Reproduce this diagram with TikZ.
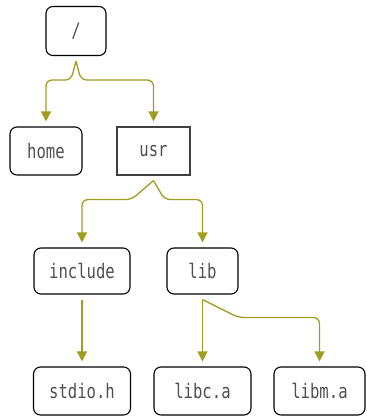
\documentclass[tikz,border=0pt]{standalone}
\usepackage{fontspec}
\newfontfamily\dmono{DejaVu Sans Mono}[FakeStretch=0.78]
\usetikzlibrary{arrows.meta}
\definecolor{edgecol}{RGB}{158,158,32}
\definecolor{txtcol}{RGB}{80,80,80}
\tikzset{
  x=1pt, y=-1pt,
  box/.style={draw=black, line width=1.1pt, rounded corners=7pt, font=\dmono\fontsize{20}{20}\selectfont, text=txtcol, inner sep=0pt, anchor=center},
  sqbox/.style={box, rounded corners=0pt, draw=black!75},
  edge/.style={draw=edgecol, line width=1.3pt, rounded corners=6pt, -{Triangle[width=10pt,length=10pt]}},
}
\begin{document}
\begin{tikzpicture}
\useasboundingbox (0,0) rectangle (367,416);
\node[box, minimum width=60pt, minimum height=49pt] (root) at (76,31) {/};
\node[box, minimum width=72pt, minimum height=48pt] (home) at (46,151) {home};
\node[sqbox, minimum width=73pt, minimum height=48pt] (usr) at (153.5,151) {usr};
\node[box, minimum width=96pt, minimum height=46pt] (include) at (82,271) {include};
\node[box, minimum width=71pt, minimum height=46pt] (lib) at (202.5,271) {lib};
\node[box, minimum width=97pt, minimum height=48pt] (stdio) at (82,391) {stdio.h};
\node[box, minimum width=97pt, minimum height=48pt] (libc) at (202.5,391) {libc.a};
\node[box, minimum width=91pt, minimum height=48pt] (libm) at (319.5,391) {libm.a};

\draw[edge] ([yshift=-5pt]root.south) -- ++(-5,19) -| ([yshift=5pt]home.north);
\draw[edge] ([yshift=-5pt]root.south) -- ++(5,19) -| ([yshift=5pt]usr.north);
\draw[edge] ([yshift=-5pt]usr.south) -- ++(-22,19) -| ([yshift=5pt]include.north);
\draw[edge] ([yshift=-5pt]usr.south) -- ++(11,19) -| ([yshift=5pt]lib.north);
\draw[edge] ([yshift=-5pt]include.south) -- ([yshift=5pt]stdio.north);
\draw[edge] ([yshift=-5pt]lib.south) -- ([yshift=5pt]libc.north);
\draw[edge] ([yshift=-5pt]lib.south) -- ++(36,18) -| ([yshift=5pt]libm.north);
\end{tikzpicture}
\end{document}
